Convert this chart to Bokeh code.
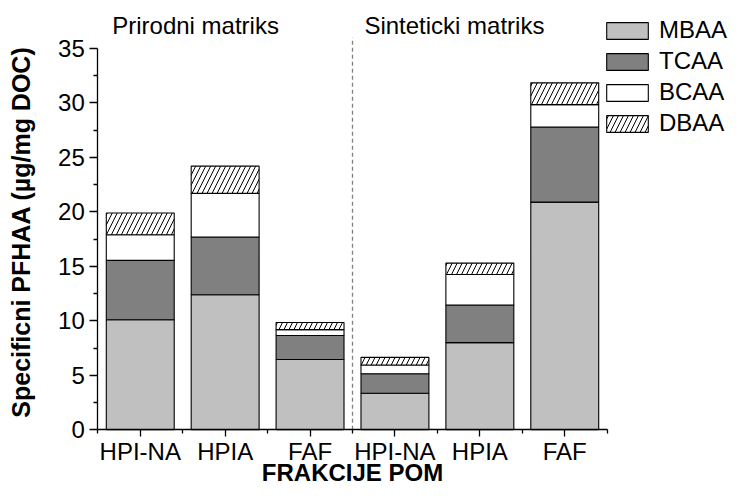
import numpy as np
from bokeh.plotting import figure
from bokeh.models import ColumnDataSource, FixedTicker, Legend, LegendItem, Label
from bokeh.embed import file_html
from bokeh.resources import INLINE

# ---- data ----
categories = ["HPI-NA", "HPIA", "FAF", "HPI-NA", "HPIA", "FAF"]
groups = ["Prirodni matriks", "Sinteticki matriks"]
series = ["MBAA", "TCAA", "BCAA", "DBAA"]
mbaa = [10.1, 12.4, 6.45, 3.35, 8.0, 20.9]
tcaa = [5.45, 5.3, 2.2, 1.8, 3.45, 6.9]
bcaa = [2.35, 4.0, 0.55, 0.8, 2.8, 2.05]
dbaa = [2.0, 2.5, 0.65, 0.7, 1.05, 2.0]
y_ticks = [0, 5, 10, 15, 20, 25, 30, 35]
y_label = "Specificni PFHAA (\u00b5g/mg DOC)"
x_label = "FRAKCIJE POM"

FONT = "Liberation Sans"
FS = "24px"
W, H = 729, 486

xs = np.arange(1, len(categories) + 1)
vals = [mbaa, tcaa, bcaa, dbaa]
fills = ["#c0c0c0", "#808080", "white", "white"]
hatches = [None, None, None, "/"]

# frame covers the whole canvas; axes are drawn at fixed data locations
PX_X = 84.9      # pixels per category
PX_Y = 10.894    # pixels per unit of y
X0_PX = 97.3     # pixel position of x = 0.5
Y0_PX = 429.3    # pixel position (from top) of y = 0
x_start = 0.5 - X0_PX / PX_X
x_end = 0.5 + (W - X0_PX) / PX_X
y_start = -(H - Y0_PX) / PX_Y
y_end = Y0_PX / PX_Y
TEXT_SHIFT = 8   # labels render this many px below their nominal baseline

def px_x(px):
    return x_start + px / PX_X

def px_y(py):
    return (Y0_PX - py) / PX_Y

p = figure(width=W, height=H, x_range=(x_start, x_end), y_range=(y_start, y_end),
           output_backend="svg", toolbar_location=None, min_border=0,
           min_border_left=0, min_border_right=0, min_border_top=0, min_border_bottom=0)
p.outline_line_color = None
p.xgrid.visible = False
p.ygrid.visible = False
p.background_fill_color = "white"
p.border_fill_color = "white"

bottom = np.zeros(len(categories))
renderers = []
for name, v, fc, hp in zip(series, vals, fills, hatches):
    top = bottom + np.array(v)
    src = ColumnDataSource(dict(x=xs, bottom=bottom.copy(), top=top))
    kw = dict(x="x", bottom="bottom", top="top", width=0.8, source=src,
              fill_color=fc, line_color="black", line_width=1.1)
    if hp:
        kw.update(hatch_pattern=hp, hatch_color="black", hatch_scale=10, hatch_weight=1)
    r = p.vbar(**kw)
    renderers.append((name, r))
    bottom = top

# group separator
sep = len(categories) / 2 + 0.5
p.segment(x0=[sep], y0=[0], x1=[sep], y1=[36], line_color="#808080",
          line_dash="4 3", line_width=1.3)

# axes
xa = p.xaxis[0]
xa.ticker = FixedTicker(ticks=list(xs), minor_ticks=list(np.arange(0.5, len(categories) + 1, 1.0)))
xa.major_label_overrides = {int(i): c for i, c in zip(xs, categories)}
xa.bounds = (0.5, len(categories) + 0.5)
xa.fixed_location = 0
ya = p.yaxis[0]
ya.ticker = FixedTicker(ticks=y_ticks, minor_ticks=list(np.arange(2.5, 35, 5.0)))
ya.bounds = (0, 35)
ya.fixed_location = 0.5

for ax in (xa, ya):
    ax.axis_line_color = "black"
    ax.axis_line_width = 1.3
    ax.major_tick_line_color = "black"
    ax.major_tick_line_width = 1.3
    ax.minor_tick_line_color = "black"
    ax.minor_tick_line_width = 1.3
    ax.major_tick_in = 0
    ax.minor_tick_in = 0
    ax.major_label_text_font = FONT
    ax.major_label_text_font_size = FS
    ax.major_label_text_color = "black"

xa.major_tick_out = 7
xa.minor_tick_out = 4
xa.major_label_standoff = 1
ya.major_tick_out = 8
ya.minor_tick_out = 4
ya.major_label_standoff = 5

# axis titles
p.add_layout(Label(x=(0.5 + len(categories) + 0.5) / 2, y=px_y(480 - TEXT_SHIFT), text=x_label,
                   text_font=FONT, text_font_size=FS, text_font_style="bold",
                   text_color="black", text_align="center", text_baseline="alphabetic"))
p.add_layout(Label(x=px_x(20), y=px_y(231.5), text=y_label, angle=np.pi / 2,
                   text_font=FONT, text_font_size="25px", text_font_style="bold",
                   text_color="black", text_align="center", text_baseline="middle"))

# group labels
for gx, g in zip([0.67, 3.64], groups):
    p.add_layout(Label(x=gx, y=px_y(33.3 - TEXT_SHIFT), text=g, text_font=FONT, text_font_size=FS,
                       text_color="black", text_align="left", text_baseline="alphabetic"))

legend = Legend(items=[LegendItem(label=n, renderers=[r]) for n, r in renderers],
                location=(601, H - 137), orientation="vertical",
                glyph_width=52, glyph_height=21, label_height=21, spacing=3,
                label_standoff=6, padding=0, margin=0,
                border_line_color=None, background_fill_alpha=0,
                label_text_font=FONT, label_text_font_size=FS, label_text_color="black")
p.add_layout(legend, "center")

open("out.html", "w").write(file_html(p, INLINE))
